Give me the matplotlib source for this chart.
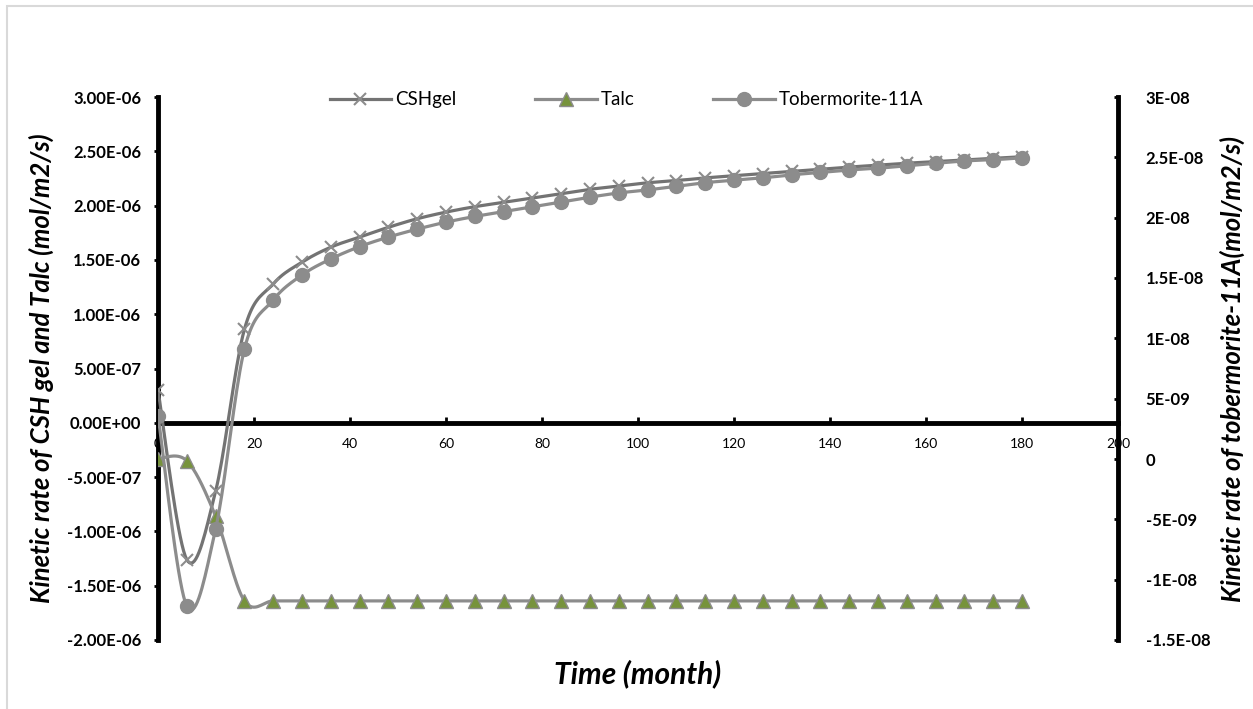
import numpy as np
import matplotlib
matplotlib.use("Agg")
import matplotlib.pyplot as plt
from matplotlib.patches import Rectangle

plt.rcParams['font.family'] = ['Lato', 'DejaVu Sans']

# data
months = [0, 6, 12, 18, 24, 30, 36, 42, 48, 54, 60, 66, 72, 78, 84, 90, 96,
          102, 108, 114, 120, 126, 132, 138, 144, 150, 156, 162, 168, 174, 180]
csh_gel = [0.30, -1.26, -0.63, 0.86, 1.278, 1.479, 1.617, 1.71, 1.80, 1.879, 1.94,
           1.99, 2.03, 2.07, 2.11, 2.15, 2.18, 2.21, 2.23, 2.255, 2.275, 2.295,
           2.315, 2.335, 2.355, 2.372, 2.39, 2.405, 2.42, 2.435, 2.45]  # x1e-6
talc = [-0.33, -0.35, -0.86] + [-1.64] * 28  # x1e-6
tobermorite = [3.6, -12.2, -5.8, 9.1, 13.17, 15.25, 16.58, 17.6, 18.39, 19.05, 19.63,
               20.1, 20.5, 20.9, 21.3, 21.7, 22.05, 22.3, 22.6, 22.9, 23.1, 23.3,
               23.55, 23.75, 23.95, 24.1, 24.3, 24.5, 24.7, 24.8, 24.96]  # x1e-9

left_ticks = [-2e-6, -1.5e-6, -1e-6, -5e-7, 0, 5e-7, 1e-6, 1.5e-6, 2e-6, 2.5e-6, 3e-6]
left_labels = ["-2.00E-06", "-1.50E-06", "-1.00E-06", "-5.00E-07", "0.00E+00", "5.00E-07",
               "1.00E-06", "1.50E-06", "2.00E-06", "2.50E-06", "3.00E-06"]
right_ticks = [-1.5e-8, -1e-8, -5e-9, 0, 5e-9, 1e-8, 1.5e-8, 2e-8, 2.5e-8, 3e-8]
right_labels = ["-1.5E-08", "-1E-08", "-5E-09", "0", "5E-09", "1E-08", "1.5E-08",
                "2E-08", "2.5E-08", "3E-08"]
x_ticks = [0, 20, 40, 60, 80, 100, 120, 140, 160, 180, 200]


def smooth(x, y, n=20):
    # Excel style smoothed line: bezier segments through every point
    x = np.asarray(x, float)
    y = np.asarray(y, float)
    px = np.concatenate([[x[0]], x, [x[-1]]])
    py = np.concatenate([[y[0]], y, [y[-1]]])
    t = np.linspace(0, 1, n)[:, None]
    xs, ys = [], []
    for i in range(1, len(px) - 2):
        p0 = np.array([px[i], py[i]])
        p3 = np.array([px[i + 1], py[i + 1]])
        c1 = p0 + (np.array([px[i + 1], py[i + 1]]) - np.array([px[i - 1], py[i - 1]])) / 6
        c2 = p3 - (np.array([px[i + 2], py[i + 2]]) - np.array([px[i], py[i]])) / 6
        pts = ((1 - t) ** 3) * p0 + 3 * ((1 - t) ** 2) * t * c1 + 3 * (1 - t) * t ** 2 * c2 + t ** 3 * p3
        xs.append(pts[:, 0])
        ys.append(pts[:, 1])
    return np.concatenate(xs), np.concatenate(ys)


csh = np.array(csh_gel) * 1e-6
tal = np.array(talc) * 1e-6
tob = np.array(tobermorite) * 1e-9

fig = plt.figure(figsize=(12.53, 7.09), dpi=100)
ax = fig.add_axes([158 / 1253, 1 - 640 / 709, (1118 - 158) / 1253, (640 - 97) / 709])
ax2 = ax.twinx()

# outer chart border
fig.patches.append(Rectangle((7 / 1253, -0.05), 1.2, 1 - 6 / 709 + 0.05,
                             transform=fig.transFigure, fill=False,
                             edgecolor="#d9d9d9", linewidth=1.5))

lw = 2.3
sx, sy = smooth(months, csh)
ax.plot(sx, sy, color="#737373", lw=lw, zorder=3)
ax.plot(months, csh, ls="none", marker="x", ms=8, mew=1.5, color="#8c8c8c", zorder=4)
ax.plot([], [], color="#737373", lw=lw, marker="x", ms=8, mew=1.5, mec="#8c8c8c", label="CSHgel")

sx, sy = smooth(months, tal)
ax.plot(sx, sy, color="#8c8c8c", lw=lw, zorder=3)
ax.plot(months, tal, ls="none", marker="^", ms=10, mfc="#77933c", mec="#8c8c8c", mew=1, zorder=4)
ax.plot([], [], color="#8c8c8c", lw=lw, marker="^", ms=10, mfc="#77933c", mec="#8c8c8c", label="Talc")

sx, sy = smooth(months, tob)
ax2.plot(sx, sy, color="#8c8c8c", lw=lw, zorder=3)
ax2.plot(months, tob, ls="none", marker="o", ms=10, color="#8c8c8c", zorder=4)
ax.plot([], [], color="#8c8c8c", lw=lw, marker="o", ms=10, label="Tobermorite-11A")

ax.set_xlim(0, 200)
ax.set_ylim(-2e-6, 3e-6)
ax2.set_ylim(-1.5e-8, 3e-8)

tick_font = dict(fontweight="bold", fontsize=12)
ax.set_xticks(x_ticks)
ax.set_xticklabels([str(v) for v in x_ticks], **tick_font)
ax.set_yticks(left_ticks)
ax.set_yticklabels(left_labels, **tick_font)
ax2.set_yticks(right_ticks)
ax2.set_yticklabels(right_labels, **tick_font)

ax.spines["bottom"].set_position(("data", 0))
ax.spines["bottom"].set_linewidth(3.5)
ax.spines["left"].set_linewidth(3.5)
for s in ["top", "right"]:
    ax.spines[s].set_visible(False)
for s in ["top", "left", "bottom"]:
    ax2.spines[s].set_visible(False)
ax2.spines["right"].set_linewidth(3.5)

ax.tick_params(axis="x", direction="in", length=4, width=2, pad=11)
ax.tick_params(axis="y", direction="out", length=3, width=2, pad=9)
ax2.tick_params(axis="y", direction="in", length=3, width=2, pad=20)

label_font = dict(fontweight="bold", fontstyle="italic")
ax.set_xlabel("Time (month)", fontsize=21.5, **label_font)
ax.xaxis.set_label_coords(0.5, -0.035)
ax.set_ylabel("Kinetic rate of CSH gel and Talc (mol/m2/s)", fontsize=18.5, **label_font)
ax.yaxis.set_label_coords(-0.108, 0.5)
ax2.set_ylabel("Kinetic rate of tobermorite-11A(mol/m2/s)", fontsize=18.5, **label_font)
ax2.yaxis.set_label_coords(1.106, 0.5)

ax.legend(loc="center", bbox_to_anchor=(0.488, 0.995), ncol=3, frameon=False,
          fontsize=13.5, columnspacing=4.2, handlelength=3.3, handletextpad=0.2)

fig.savefig("out.png", dpi=100)
